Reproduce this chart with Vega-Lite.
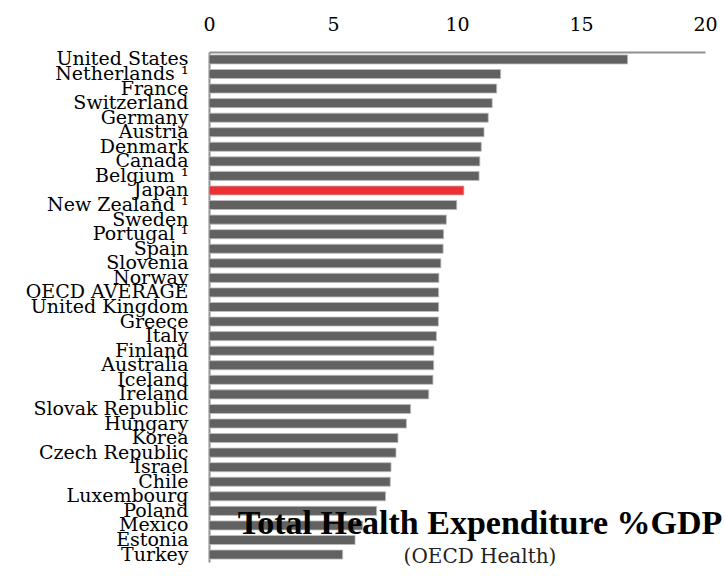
{
  "$schema": "https://vega.github.io/schema/vega-lite/v6.json",
  "width": 496,
  "height": 510,
  "autosize": {"type": "none"},
  "padding": {"left": 209, "top": 52, "right": 20, "bottom": 14},
  "background": "white",
  "title": {
    "text": "Total Health Expenditure %GDP",
    "subtitle": "(OECD Health)",
    "orient": "bottom",
    "anchor": "middle",
    "dx": 23,
    "offset": -30,
    "baseline": "alphabetic",
    "font": "Liberation Serif",
    "fontSize": 34,
    "fontWeight": "bold",
    "color": "black",
    "subtitleFont": "DejaVu Serif",
    "subtitleFontSize": 20,
    "subtitleColor": "#222",
    "subtitlePadding": -5
  },
  "data": {
    "values": [
      {"country": "United States", "value": 16.88},
      {"country": "Netherlands ¹", "value": 11.76},
      {"country": "France", "value": 11.6},
      {"country": "Switzerland", "value": 11.42},
      {"country": "Germany", "value": 11.26},
      {"country": "Austria", "value": 11.09},
      {"country": "Denmark", "value": 10.98},
      {"country": "Canada", "value": 10.92},
      {"country": "Belgium ¹", "value": 10.89},
      {"country": "Japan", "value": 10.28},
      {"country": "New Zealand ¹", "value": 9.99},
      {"country": "Sweden", "value": 9.57},
      {"country": "Portugal ¹", "value": 9.46},
      {"country": "Spain", "value": 9.44},
      {"country": "Slovenia", "value": 9.35},
      {"country": "Norway", "value": 9.27},
      {"country": "OECD AVERAGE", "value": 9.26},
      {"country": "United Kingdom", "value": 9.26},
      {"country": "Greece", "value": 9.25},
      {"country": "Italy", "value": 9.17},
      {"country": "Finland", "value": 9.07},
      {"country": "Australia", "value": 9.06},
      {"country": "Iceland", "value": 9.03},
      {"country": "Ireland", "value": 8.86},
      {"country": "Slovak Republic", "value": 8.13},
      {"country": "Hungary", "value": 7.96},
      {"country": "Korea", "value": 7.62},
      {"country": "Czech Republic", "value": 7.54},
      {"country": "Israel", "value": 7.34},
      {"country": "Chile", "value": 7.31},
      {"country": "Luxembourg", "value": 7.12},
      {"country": "Poland", "value": 6.76},
      {"country": "Mexico", "value": 6.2},
      {"country": "Estonia", "value": 5.89},
      {"country": "Turkey", "value": 5.39}
    ]
  },
  "mark": {"type": "bar", "stroke": "#bdbdbd", "strokeWidth": 0.8},
  "encoding": {
    "y": {
      "field": "country",
      "type": "nominal",
      "sort": null,
      "scale": {"paddingInner": 0.38, "paddingOuter": 0.2},
      "axis": {
        "title": null,
        "ticks": false,
        "tickSize": 0,
        "labelPadding": 21,
        "labelFont": "DejaVu Serif",
        "labelFontSize": 19,
        "labelColor": "black",
        "labelOverlap": false,
        "labelBound": false,
        "labelLimit": 0,
        "domainColor": "#8f8f8f",
        "domainWidth": 2
      }
    },
    "x": {
      "field": "value",
      "type": "quantitative",
      "scale": {"domain": [0, 20], "nice": false},
      "axis": {
        "orient": "top",
        "title": null,
        "values": [0, 5, 10, 15, 20],
        "grid": false,
        "ticks": false,
        "tickSize": 0,
        "labelPadding": 18,
        "labelFont": "DejaVu Serif",
        "labelFontSize": 19,
        "labelColor": "black",
        "labelFlush": false,
        "domainColor": "#8f8f8f",
        "domainWidth": 2
      }
    },
    "color": {
      "condition": {"test": "datum.country === 'Japan'", "value": "#ee3035"},
      "value": "#616161"
    }
  },
  "config": {"view": {"stroke": null}}
}
